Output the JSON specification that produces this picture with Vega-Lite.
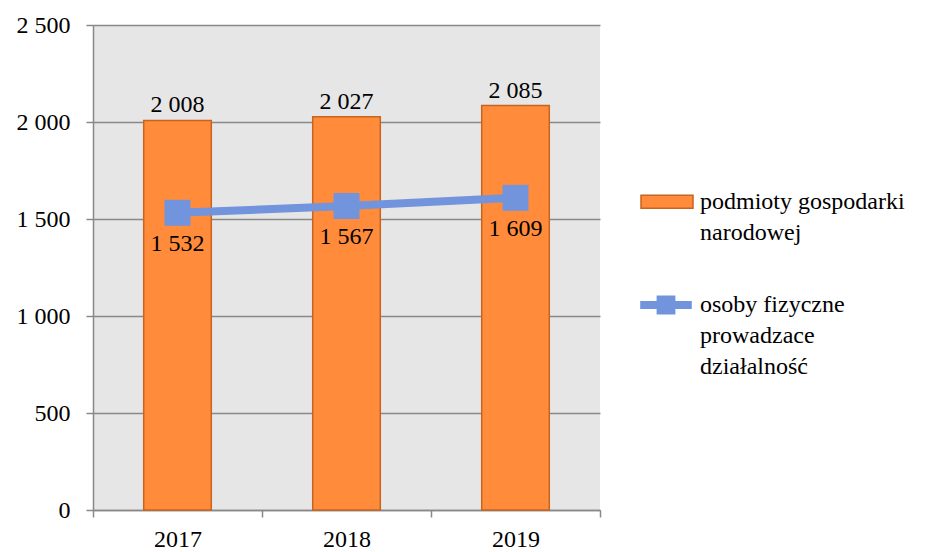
{
  "$schema": "https://vega.github.io/schema/vega-lite/v6.json",
  "width": 507,
  "height": 485,
  "autosize": "none",
  "padding": {"left": 93, "top": 25, "right": 330, "bottom": 42},
  "background": "white",
  "config": {
    "locale": {"number": {"decimal": ",", "thousands": " ", "grouping": [3], "currency": ["", " zł"]}},
    "view": {"fill": "#e6e6e6", "stroke": null},
    "font": "Liberation Serif",
    "style": {"guide-label": {"lineHeight": 31}},
    "axis": {
      "labelFont": "Liberation Serif",
      "labelFontSize": 24,
      "labelColor": "#000000",
      "domainColor": "#898989",
      "domainWidth": 1.5,
      "tickColor": "#898989",
      "tickWidth": 1.5,
      "tickSize": 7,
      "gridColor": "#898989",
      "gridWidth": 1.5,
      "title": null
    },
    "legend": {
      "labelFont": "Liberation Serif",
      "labelFontSize": 24,
      "labelColor": "#000000",
      "labelLimit": 0
    }
  },
  "data": {
    "values": [
      {"year": "2017", "podmioty": 2008, "osoby": 1532},
      {"year": "2018", "podmioty": 2027, "osoby": 1567},
      {"year": "2019", "podmioty": 2085, "osoby": 1609}
    ]
  },
  "encoding": {
    "x": {
      "field": "year",
      "type": "ordinal",
      "scale": {"paddingInner": 0, "paddingOuter": 0},
      "axis": {"labelAngle": 0, "tickBand": "extent", "grid": false, "labelPadding": 10}
    }
  },
  "layer": [
    {
      "mark": {"type": "bar", "width": {"band": 0.4}, "stroke": "#c8641e", "strokeWidth": 1.5},
      "encoding": {
        "y": {
          "field": "podmioty",
          "type": "quantitative",
          "scale": {"domain": [0, 2500], "nice": false},
          "axis": {"values": [0, 500, 1000, 1500, 2000, 2500], "format": ",d", "grid": true, "labelPadding": 16}
        },
        "color": {
          "datum": "podmioty gospodarki narodowej",
          "type": "nominal",
          "scale": {"domain": ["podmioty gospodarki narodowej"], "range": ["#ff8b3b"]},
          "legend": {
            "title": null,
            "orient": "none",
            "legendX": 547,
            "legendY": 138,
            "labelOffset": 6,
            "labelBaseline": "top",
            "symbolType": "M-1,0.2H1V0.7H-1Z",
            "symbolSize": 2704,
            "symbolStrokeColor": "#c8641e",
            "symbolStrokeWidth": 1.5,
            "symbolOpacity": 1,
            "labelExpr": "['podmioty gospodarki','narodowej']"
          }
        }
      }
    },
    {
      "mark": {"type": "text", "baseline": "bottom", "dy": -3, "fontSize": 24, "font": "Liberation Serif", "color": "#000000"},
      "encoding": {
        "y": {"field": "podmioty", "type": "quantitative"},
        "text": {"field": "podmioty", "type": "quantitative", "format": ",d"}
      }
    },
    {
      "mark": {"type": "line", "strokeWidth": 8, "strokeCap": "round"},
      "encoding": {
        "y": {"field": "osoby", "type": "quantitative"},
        "stroke": {
          "datum": "osoby fizyczne prowadzace działalność",
          "type": "nominal",
          "scale": {"domain": ["osoby fizyczne prowadzace działalność"], "range": ["#7294dc"]},
          "legend": {
            "title": null,
            "orient": "none",
            "legendX": 539,
            "legendY": 234,
            "labelOffset": 0,
            "labelBaseline": "top",
            "symbolType": "M-0.86,0.4H0.86M-0.18,0.22H0.18V0.58H-0.18Z",
            "symbolSize": 3600,
            "symbolStrokeWidth": 8,
            "symbolOpacity": 1,
            "labelExpr": "['osoby fizyczne','prowadzace','działalność']"
          }
        }
      }
    },
    {
      "mark": {"type": "point", "shape": "square", "size": 676, "filled": true, "color": "#7294dc", "opacity": 1},
      "encoding": {
        "y": {"field": "osoby", "type": "quantitative"}
      }
    },
    {
      "mark": {"type": "text", "baseline": "middle", "dy": 31, "fontSize": 24, "font": "Liberation Serif", "color": "#000000"},
      "encoding": {
        "y": {"field": "osoby", "type": "quantitative"},
        "text": {"field": "osoby", "type": "quantitative", "format": ",d"}
      }
    }
  ]
}
